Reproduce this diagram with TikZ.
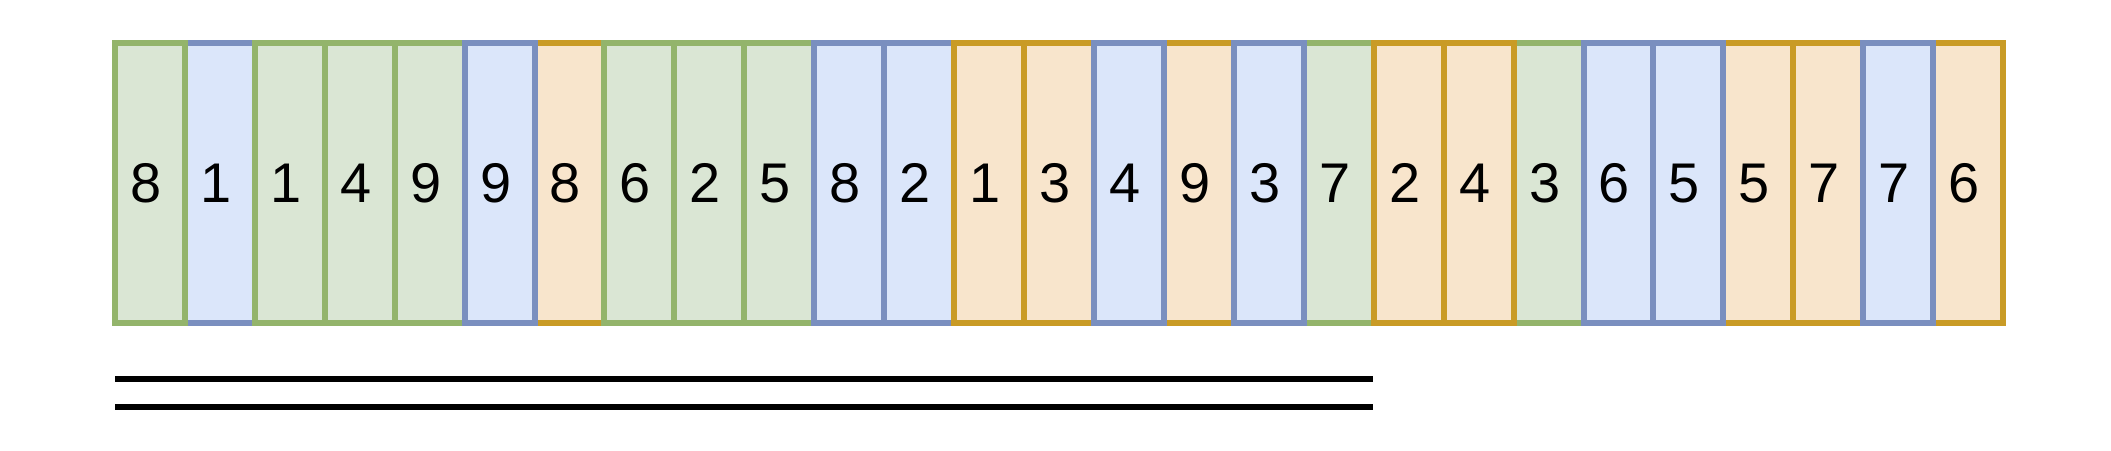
\documentclass[tikz,border=0pt]{standalone}
\usepackage{fontspec}
\setmainfont{Liberation Sans}
\definecolor{gfill}{HTML}{DAE6D4}
\definecolor{gline}{HTML}{93B46B}
\definecolor{bfill}{HTML}{DBE6FA}
\definecolor{bline}{HTML}{7A8FBF}
\definecolor{ofill}{HTML}{F8E5CC}
\definecolor{oline}{HTML}{C99B26}
\begin{document}
\begin{tikzpicture}[x=0.01cm,y=-0.01cm,
  cell/.style={draw, line width=0.06cm, minimum width=0.6993cm, minimum height=2.795cm,
    inner sep=0pt, outer sep=0pt, font=\fontsize{15.9}{19}\selectfont},
  G/.style={cell, fill=gfill, draw=gline},
  B/.style={cell, fill=bfill, draw=bline},
  O/.style={cell, fill=ofill, draw=oline},
  bar/.style={line width=0.06cm, black}]
\useasboundingbox (0,0) rectangle (2111,450);
\foreach \i/\c/\d in {2/B/1, 1/G/8, 3/G/1, 4/G/4, 5/G/9, 7/O/8, 6/B/9, 8/G/6, 9/G/2,
  10/G/5, 11/B/8, 12/B/2, 13/O/1, 14/O/3, 16/O/9, 18/G/7, 15/B/4, 17/B/3, 19/O/2,
  21/G/3, 20/O/4, 22/B/6, 24/O/5, 23/B/5, 25/O/7, 27/O/6, 26/B/7}
  \node[\c] (c\i) at ({115+69.93*(\i-0.5)},183.25) {\kern-0.08cm\d};
\coordinate (l1a) at (115,379);
\coordinate (l1b) at (1373,379);
\coordinate (l2a) at (115,407);
\coordinate (l2b) at (1373,407);
\draw[bar] (l1a) -- (l1b);
\draw[bar] (l2a) -- (l2b);
\end{tikzpicture}
\end{document}
